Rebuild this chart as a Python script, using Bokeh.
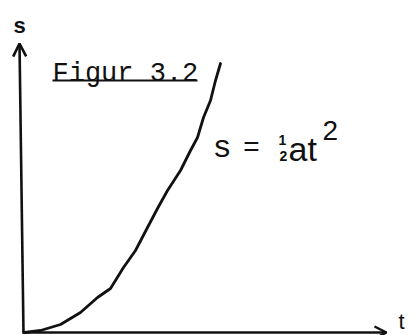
from bokeh.plotting import figure
from bokeh.models import Range1d, Arrow, OpenHead, Label
from bokeh.embed import file_html
from bokeh.resources import INLINE

# Distance s covered under constant acceleration, sampled along time t
t_values = [2, 18, 38, 58, 75, 88, 101, 113, 125, 135, 145, 158, 168, 175, 181, 188, 193, 198]
s_values = [0, 2, 8, 20, 35, 44, 65, 82, 105, 124, 142, 162, 182, 195, 215, 232, 252, 269]

# Axis extents
T_AXIS_END = 364
S_AXIS_END = 289

title_text = "Figur 3.2"
x_label = "t"
y_label = "s"

INK = "#111111"
MONO = "Liberation Mono"
SANS = "Liberation Sans"

p = figure(width=414, height=335, output_backend="svg", toolbar_location=None,
           x_range=Range1d(-22, 392), y_range=Range1d(-3, 332),
           min_border=0, min_border_left=0, min_border_right=0,
           min_border_top=0, min_border_bottom=0)
p.axis.visible = False
p.grid.visible = False
p.outline_line_color = None
p.background_fill_color = "white"
p.border_fill_color = "white"

# Hand-drawn style axes with open arrow heads
p.add_layout(Arrow(x_start=1, y_start=-1, x_end=-3, y_end=S_AXIS_END,
                   line_width=2.6, line_color=INK,
                   end=OpenHead(size=13, line_width=2.6, line_color=INK)))
p.add_layout(Arrow(x_start=0, y_start=0, x_end=T_AXIS_END, y_end=0,
                   line_width=2.4, line_color=INK,
                   end=OpenHead(size=12, line_width=2.4, line_color=INK)))

# The curve s = 1/2 a t^2
p.line(t_values, s_values, line_width=2.8, line_color=INK,
       line_join="round", line_cap="round")

# Axis names
p.add_layout(Label(x=-3, y=305, text=y_label, text_font=MONO, text_font_size="22px",
                   text_align="center", text_baseline="alphabetic",
                   text_color=INK, text_font_style="bold"))
p.add_layout(Label(x=376, y=11, text=x_label, text_font=SANS, text_font_size="22px",
                   text_align="left", text_baseline="middle", text_color=INK))

# Figure caption with underline
p.add_layout(Label(x=30, y=259, text=title_text, text_font=MONO, text_font_size="27px",
                   text_align="left", text_baseline="alphabetic", text_color=INK))
p.line([30, 175], [252, 252], line_width=2, line_color=INK)

# Formula s = 1/2 a t^2
p.add_layout(Label(x=190, y=184, text="s", text_font=MONO, text_font_size="32px",
                   text_align="left", text_baseline="alphabetic", text_color=INK))
p.add_layout(Label(x=229, y=184, text="=", text_font=MONO, text_font_size="28px",
                   text_align="center", text_baseline="alphabetic", text_color=INK))
p.add_layout(Label(x=260, y=193, text="1", text_font=SANS, text_font_size="14px",
                   text_align="center", text_baseline="alphabetic", text_color=INK,
                   text_font_style="bold"))
p.add_layout(Label(x=261, y=177, text="2", text_font=SANS, text_font_size="14px",
                   text_align="center", text_baseline="alphabetic", text_color=INK,
                   text_font_style="bold"))
p.add_layout(Label(x=266, y=184, text="at", text_font=SANS, text_font_size="34px",
                   text_align="left", text_baseline="alphabetic", text_color=INK))
p.add_layout(Label(x=300, y=202, text="2", text_font=SANS, text_font_size="28px",
                   text_align="left", text_baseline="alphabetic", text_color=INK))

open("out.html", "w").write(file_html(p, INLINE))
